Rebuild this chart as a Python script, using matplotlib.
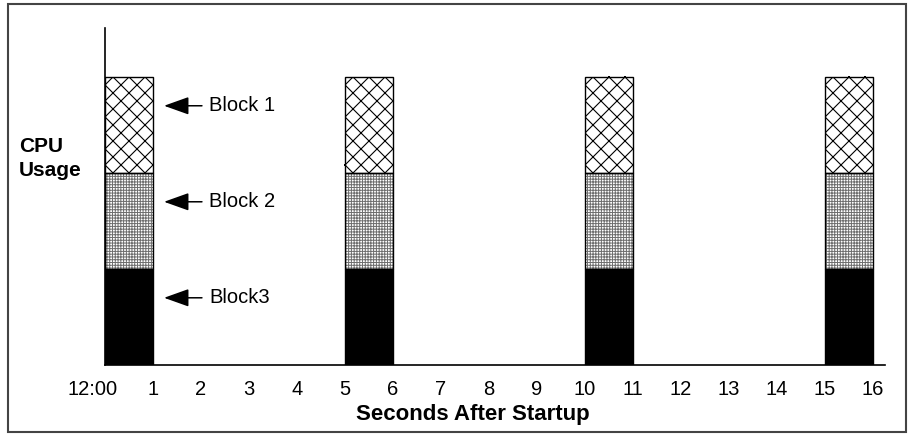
import matplotlib
matplotlib.use("Agg")
import numpy as np
import matplotlib.pyplot as plt
from matplotlib.patches import Rectangle
from matplotlib.transforms import ScaledTranslation

plt.rcParams['font.family'] = ['Liberation Sans', 'DejaVu Sans']
plt.rcParams['hatch.linewidth'] = 0.7

# data
burst_starts = [0, 5, 10, 15]          # seconds where a burst begins
burst_width = 1
block_names = ['Block3', 'Block 2', 'Block 1']   # bottom -> top
block_heights = [1, 1, 1]
tick_pos = list(range(17))
tick_labels = ['12:00'] + [str(i) for i in range(1, 17)]

fig = plt.figure(figsize=(9.09, 4.34), dpi=100)
ax = fig.add_axes([105/909, 69/434, 780/909, 337/434])
ax.set_xlim(0, 16.25)
ax.set_ylim(0, 3.51)

# fills bottom to top: solid, fine dot grid, open cross-hatch (drawn by hand below)
fills = [dict(color='black'),
         dict(facecolor='white', edgecolor='#6e6e6e', hatch='++++++', linewidth=0),
         dict(facecolor='white', linewidth=0)]

containers = []
bottom = 0
for h, name, st in zip(block_heights, block_names, fills):
    bc = ax.bar(burst_starts, h, width=burst_width, bottom=bottom, align='edge', **st)
    containers.append(bc)
    # outline
    ax.bar(burst_starts, h, width=burst_width, bottom=bottom, align='edge',
           fill=False, edgecolor='black', linewidth=1.0, zorder=3)
    # arrow + label next to the first burst
    y = bottom + h / 2 + 0.2
    ax.annotate('', xy=(1.23, y), xytext=(2.02, y),
                arrowprops=dict(arrowstyle='-|>,head_length=1.4,head_width=0.5',
                                mutation_scale=11, color='black', lw=1.1,
                                shrinkA=0, shrinkB=0))
    ax.text(2.17, y, name, va='center', ha='left', fontsize=14.5)
    bottom += h

# diamond cross-hatch for the top block (45 deg on screen)
px_x = ax.get_position().width * fig.get_figwidth() * fig.dpi / 16.25
px_y = ax.get_position().height * fig.get_figheight() * fig.dpi / 3.51
slope = px_x / px_y
step = 16 / px_x
for rect in containers[2].patches:
    x0, y0 = rect.get_x(), rect.get_y()
    w, h = rect.get_width(), rect.get_height()
    run = h / slope
    n_lo = int(run / step) + 2
    n_hi = int((w + run) / step) + 2
    cs = x0 + step / 2 + step * np.arange(-n_lo, n_hi)
    for c in cs:
        l1, = ax.plot([c - run, c], [y0, y0 + h], color='black', lw=0.8)
        l2, = ax.plot([c, c + run], [y0 + h, y0], color='black', lw=0.8)
        l1.set_clip_path(rect)
        l2.set_clip_path(rect)
    # dots where the lines cross
    c1, c2 = np.meshgrid(cs - run, cs)
    xi = ((c1 + c2 + run) / 2).ravel()
    yi = y0 + slope * (xi - c1.ravel())
    ok = (xi > x0) & (xi < x0 + w) & (yi > y0) & (yi < y0 + h)
    ax.scatter(xi[ok], yi[ok], s=4, marker='s', color='black', linewidths=0)

for s in ['top', 'right']:
    ax.spines[s].set_visible(False)
for s in ['left', 'bottom']:
    ax.spines[s].set_linewidth(1.2)
    ax.spines[s].set_color('black')

ax.set_yticks([])
ax.set_xticks(tick_pos)
ax.set_xticklabels(tick_labels, fontsize=14.5)
ax.tick_params(axis='x', length=0, pad=11)
# the "12:00" label sits a bit left of the origin
lbl0 = ax.get_xticklabels()[0]
lbl0.set_transform(lbl0.get_transform() + ScaledTranslation(-0.12, 0, fig.dpi_scale_trans))

ax.text(7.67, -0.573, 'Seconds After Startup', ha='center', va='baseline',
        fontsize=16, fontweight='bold')

fig.text(19/909, 1 - 147/434, 'CPU', ha='left', va='center',
         fontsize=15, fontweight='bold')
fig.text(19/909, 1 - 170/434, 'Usage', ha='left', va='center',
         fontsize=15, fontweight='bold')

# outer frame
fig.patches.append(Rectangle((8/909, 2/434), 898/909, 428/434,
                             transform=fig.transFigure, fill=False,
                             edgecolor='#444444', linewidth=1.5))

fig.savefig('out.png', dpi=100)
